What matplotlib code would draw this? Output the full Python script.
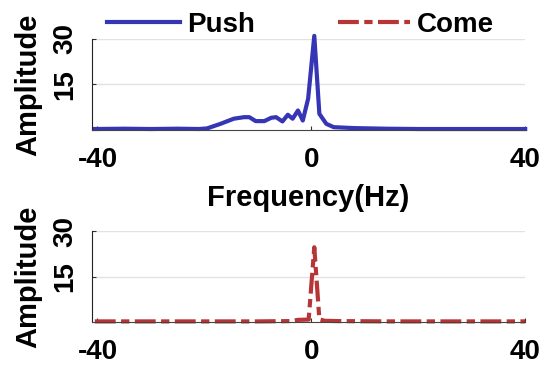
import matplotlib
matplotlib.use('Agg')
import matplotlib.pyplot as plt

plt.rcParams['font.family'] = ['Liberation Sans', 'DejaVu Sans']
plt.rcParams['font.weight'] = 'bold'
plt.rcParams['axes.unicode_minus'] = False

# spectrum samples (Hz, amplitude)
push_freq = [-40.5, -35, -30, -25, -21, -19.5, -17.0, -14.5, -12.6, -11.6, -10.4, -8.8,
             -7.5, -6.6, -5.4, -4.4, -3.5, -2.5, -1.6, -0.6, 0.55, 1.5, 2.8, 4.2,
             8, 14, 20, 30, 40]
push_amp = [0.3, 0.4, 0.3, 0.4, 0.3, 0.5, 2.0, 3.7, 4.2, 4.2, 2.9, 2.9,
            4.0, 4.2, 2.8, 5.0, 3.7, 6.4, 3.1, 10.3, 31.0, 5.3, 2.0, 0.9,
            0.6, 0.4, 0.3, 0.3, 0.3]

come_freq = [-40.5, -30, -20, -10, -4, -2.5, -0.5, 0.55, 1.5, 2.5, 5, 15, 30, 40]
come_amp = [0.2, 0.2, 0.2, 0.2, 0.3, 0.7, 0.8, 24.7, 0.9, 0.4, 0.3, 0.2, 0.2, 0.2]

xticks = [-40, 0, 40]
yticks = [15, 30]

blue = '#3535b5'
red = '#b73535'

fig = plt.figure(figsize=(5.42, 3.67), dpi=100)
ax1 = fig.add_axes([0.170, 0.646, 0.799, 0.248])
ax2 = fig.add_axes([0.170, 0.1226, 0.799, 0.2474])

l1, = ax1.plot(push_freq, push_amp, color=blue, lw=3.0, clip_on=False, label='Push')
l2, = ax2.plot(come_freq, come_amp, color=red, lw=3.0, clip_on=False,
               dashes=(5, 1.3, 2, 1.3), label='Come')

for ax in (ax1, ax2):
    ax.set_xlim(-41, 40)
    ax.set_ylim(0, 30)
    ax.set_xticks(xticks)
    ax.set_yticks(yticks)
    ax.set_yticklabels([str(t) for t in yticks], rotation=90, va='center')
    ax.tick_params(axis='both', direction='in', length=3, width=0.8, labelsize=20,
                   color='#333333')
    ax.tick_params(axis='y', pad=10)
    ax.tick_params(axis='x', pad=12)
    ax.grid(axis='y', color='#e2e2e2', lw=1)
    ax.set_axisbelow(True)
    for s in ('top', 'right'):
        ax.spines[s].set_visible(False)
    ax.spines['left'].set_color('#222222')
    ax.spines['bottom'].set_color('#444444')
    ax.set_ylabel('Amplitude', fontsize=21, fontweight='bold', labelpad=7)

ax1.set_xlabel('Frequency(Hz)', fontsize=21, fontweight='bold', labelpad=8)

fig.legend(handles=[l1, l2], loc='center', bbox_to_anchor=(0.555, 0.932), ncol=2,
           frameon=False, fontsize=20, handlelength=2.6, handletextpad=0.25,
           columnspacing=3.0, borderaxespad=0)

fig.savefig('out.png', dpi=100)
